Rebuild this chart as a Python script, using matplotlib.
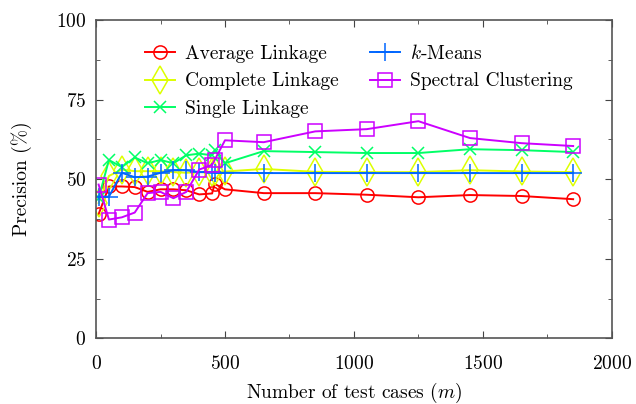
import matplotlib
matplotlib.use('Agg')
import matplotlib.pyplot as plt
from matplotlib.ticker import MultipleLocator

plt.rcParams['font.family'] = 'cmr10'
plt.rcParams['mathtext.fontset'] = 'cm'
plt.rcParams['axes.formatter.use_mathtext'] = True

# Number of test cases
m = [10, 50, 100, 150, 200, 250, 300, 350, 400, 450, 460, 500,
     650, 850, 1050, 1250, 1450, 1650, 1850]

# Precision (%) per method
average_linkage = [39.0, 47.7, 47.7, 47.5, 46.0, 46.8, 46.8, 46.5, 45.2, 45.5, 48.5, 46.8,
                   45.6, 45.6, 45.1, 44.3, 45.0, 44.7, 43.7]
complete_linkage = [42.5, 51.0, 53.0, 52.5, 52.5, 52.5, 52.2, 52.0, 52.2, 52.2, 52.4, 52.4,
                    53.2, 52.3, 52.2, 52.2, 52.8, 52.4, 52.2]
single_linkage = [44.0, 56.0, 53.8, 56.8, 55.0, 56.0, 55.0, 57.5, 58.0, 57.5, 59.0, 55.0,
                  58.8, 58.5, 58.2, 58.2, 59.4, 59.1, 58.5]
k_means = [44.5, 44.5, 52.0, 50.6, 50.8, 52.0, 52.8, 52.8, 52.2, 52.2, 52.0, 52.0,
           51.9, 51.9, 51.9, 51.9, 51.9, 51.9, 51.9]
spectral = [48.3, 37.3, 38.0, 39.5, 45.6, 46.0, 44.0, 46.0, 53.0, 54.5, 56.0, 62.2,
            61.6, 65.0, 65.7, 68.2, 62.9, 61.3, 60.4]

fig = plt.figure(figsize=(6.36, 4.04), dpi=100)
ax = fig.add_axes([0.151, 0.1626, 0.811, 0.788])

ax.plot(m, average_linkage, color='#ff0000', marker='o', mfc='none', ms=9.5, mew=1.1, lw=1.4,
        label='Average Linkage')
ax.plot(m, complete_linkage, color='#ddff00', marker='d', mfc='none', ms=14, mew=1.1, lw=1.4,
        label='Complete Linkage')
ax.plot(m, single_linkage, color='#00ff66', marker='x', ms=9, mew=1.1, lw=1.4,
        label='Single Linkage')
ax.plot(m, k_means, color='#0066ff', marker='+', ms=13, mew=1.1, lw=1.4,
        label='$k$-Means')
ax.plot(m, spectral, color='#cc00ff', marker='s', mfc='none', ms=9.5, mew=1.1, lw=1.4,
        label='Spectral Clustering')

ax.set_xlim(0, 2000)
ax.set_ylim(0, 100)
ax.xaxis.set_major_locator(MultipleLocator(500))
ax.xaxis.set_minor_locator(MultipleLocator(250))
ax.yaxis.set_major_locator(MultipleLocator(25))
ax.yaxis.set_minor_locator(MultipleLocator(12.5))
ax.tick_params(which='both', direction='in', top=True, right=True, labelsize=14, color='#444444')
ax.tick_params(which='major', length=5)
ax.tick_params(which='minor', length=3)
ax.tick_params(axis='x', pad=12)
ax.tick_params(axis='y', pad=7)
for s in ax.spines.values():
    s.set_color('#555555')
    s.set_linewidth(1.2)

ax.set_xlabel('Number of test cases ($m$)', fontsize=14, labelpad=6)
ax.set_ylabel('Precision (%)', fontsize=14, labelpad=17)

ax.legend(ncol=2, frameon=False, fontsize=14, loc='upper left', bbox_to_anchor=(0.08, 0.95),
          handlelength=1.55, handletextpad=0.5, columnspacing=1.6, labelspacing=0.5,
          borderaxespad=0)

fig.savefig('out.png', dpi=100)
